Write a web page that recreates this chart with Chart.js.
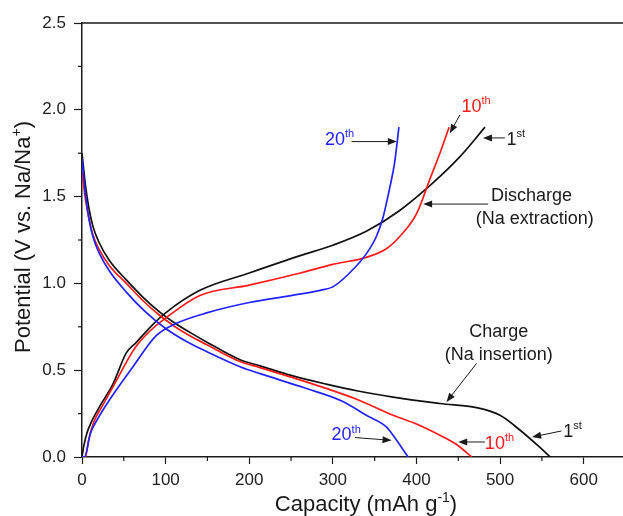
<!DOCTYPE html>
<html>
<head>
<meta charset="utf-8">
<script src="https://cdn.jsdelivr.net/npm/chart.js@4.4.1/dist/chart.umd.min.js"></script>
<style>
	html, body { margin: 0; padding: 0; background: #fff; }
	canvas { display: block; }
</style>
</head>
<body>
<canvas id="chart" width="623" height="516"></canvas>
<script>
// capacity (mAh g-1) and potential (V)
var cap1Charge = [0, 4, 8, 13, 20, 33, 53, 73, 93, 110, 130, 150, 189, 213, 250, 292, 330, 372, 428, 476, 500, 524, 547, 560];
var pot1Charge = [1.75, 1.57, 1.44, 1.33, 1.24, 1.13, 1.02, 0.92, 0.835, 0.775, 0.715, 0.66, 0.56, 0.525, 0.47, 0.42, 0.38, 0.345, 0.308, 0.28, 0.24, 0.154, 0.058, 0];

var cap10Charge = [0, 4, 8, 13, 20, 33, 53, 73, 93, 110, 130, 150, 189, 213, 250, 292, 330, 372, 400, 432, 450, 466];
var pot10Charge = [1.64, 1.49, 1.38, 1.28, 1.20, 1.10, 1.00, 0.90, 0.815, 0.755, 0.695, 0.645, 0.55, 0.515, 0.46, 0.395, 0.33, 0.24, 0.19, 0.115, 0.065, 0];

var cap20Charge = [0, 4, 8, 13, 21, 33, 53, 75, 100, 125, 150, 189, 213, 265, 312, 340, 364, 372, 390];
var pot20Charge = [1.72, 1.52, 1.38, 1.27, 1.17, 1.07, 0.95, 0.84, 0.74, 0.665, 0.605, 0.52, 0.48, 0.40, 0.32, 0.24, 0.173, 0.125, 0];

var cap1Discharge = [0, 2, 6, 12, 21, 37, 53, 65, 80, 100, 141, 200, 261, 300, 340, 380, 420, 452, 482];
var pot1Discharge = [0, 0.06, 0.14, 0.21, 0.29, 0.42, 0.60, 0.66, 0.74, 0.83, 0.96, 1.06, 1.16, 1.22, 1.30, 1.42, 1.58, 1.73, 1.9];

var cap10Discharge = [0, 4, 8, 14, 25, 40, 57, 65, 80, 100, 141, 200, 261, 300, 340, 364, 380, 400, 416, 428, 439];
var pot10Discharge = [0, 0, 0.1, 0.2, 0.3, 0.43, 0.58, 0.64, 0.72, 0.80, 0.93, 0.99, 1.06, 1.11, 1.15, 1.20, 1.27, 1.40, 1.60, 1.75, 1.9];

var cap20Discharge = [0, 3, 10, 20, 33, 61, 89, 113, 149, 200, 250, 285, 300, 320, 340, 352, 360, 368, 374, 379];
var pot20Discharge = [0, 0, 0.135, 0.23, 0.33, 0.52, 0.70, 0.77, 0.83, 0.89, 0.93, 0.96, 0.98, 1.06, 1.17, 1.27, 1.38, 1.55, 1.70, 1.9];

var xTickValues = [0, 50, 100, 150, 200, 250, 300, 350, 400, 450, 500, 550, 600];
var yTickValues = [0, 0.25, 0.5, 0.75, 1, 1.25, 1.5, 1.75, 2, 2.25, 2.5];

var xTitle = [['Capacity (mAh g', false], ['-1', true], [')', false]];
var yTitle = [['Potential (V vs. Na/Na', false], ['+', true], [')', false]];

var FONT = "'Liberation Sans', Arial, sans-serif";
var INK = '#1a1a1a';

function pts(xs, ys) {
	return xs.map(function (x, i) { return { x: x, y: ys[i] }; });
}

function line(label, xs, ys, color) {
	return {
		label: label,
		data: pts(xs, ys),
		showLine: true,
		borderColor: color,
		borderWidth: 1.7,
		pointRadius: 0,
		fill: false,
		cubicInterpolationMode: 'monotone'
	};
}

// labels and arrows, placed in data units
var notes = [
	{ t: 'text', x: 290.5, y: 1.797, parts: [['20', false], ['th', true]], color: '#2222ff' },
	{ t: 'arrow', x1: 322.4, y1: 1.817, x2: 376.5, y2: 1.817 },
	{ t: 'text', x: 453.9, y: 1.99, parts: [['10', false], ['th', true]], color: '#ff1a1a' },
	{ t: 'arrow', x1: 451.9, y1: 1.97, x2: 439.9, y2: 1.865 },
	{ t: 'text', x: 507.7, y: 1.797, parts: [['1', false], ['st', true]], color: INK },
	{ t: 'arrow', x1: 505.7, y1: 1.838, x2: 479.5, y2: 1.838 },
	{ t: 'text', x: 537.6, y: 1.475, parts: [['Discharge', false]], color: INK, center: true },
	{ t: 'text', x: 541.5, y: 1.342, parts: [['(Na extraction)', false]], color: INK, center: true },
	{ t: 'arrow', x1: 485.7, y1: 1.457, x2: 408, y2: 1.457 },
	{ t: 'text', x: 498.5, y: 0.692, parts: [['Charge', false]], color: INK, center: true },
	{ t: 'text', x: 498.5, y: 0.558, parts: [['(Na insertion)', false]], color: INK, center: true },
	{ t: 'arrow', x1: 471.8, y1: 0.539, x2: 435.9, y2: 0.317 },
	{ t: 'text', x: 298.5, y: 0.096, parts: [['20', false], ['th', true]], color: '#2222ff' },
	{ t: 'arrow', x1: 326.4, y1: 0.112, x2: 370.2, y2: 0.096 },
	{ t: 'text', x: 481.8, y: 0.048, parts: [['10', false], ['th', true]], color: '#ff1a1a' },
	{ t: 'arrow', x1: 481.8, y1: 0.0865, x2: 449.9, y2: 0.0865 },
	{ t: 'text', x: 575.4, y: 0.115, parts: [['1', false], ['st', true]], color: INK },
	{ t: 'arrow', x1: 573.5, y1: 0.15, x2: 538.3, y2: 0.115 }
];

function supText(ctx, x, y, parts, size, color, center) {
	var supSize = Math.round(size * 0.62);
	var w = 0;
	parts.forEach(function (p) {
		ctx.font = (p[1] ? supSize : size) + 'px ' + FONT;
		w += ctx.measureText(p[0]).width;
	});
	var cx = center ? x - w / 2 : x;
	ctx.fillStyle = color;
	ctx.textAlign = 'left';
	ctx.textBaseline = 'alphabetic';
	parts.forEach(function (p) {
		ctx.font = (p[1] ? supSize : size) + 'px ' + FONT;
		ctx.fillText(p[0], cx, p[1] ? y - size * 0.42 : y);
		cx += ctx.measureText(p[0]).width;
	});
}

function arrow(ctx, x1, y1, x2, y2) {
	var a = Math.atan2(y2 - y1, x2 - x1);
	var len = 9, half = 3.5;
	ctx.strokeStyle = INK;
	ctx.fillStyle = INK;
	ctx.lineWidth = 1;
	ctx.beginPath();
	ctx.moveTo(x1, y1);
	ctx.lineTo(x2 - Math.cos(a) * len * 0.8, y2 - Math.sin(a) * len * 0.8);
	ctx.stroke();
	ctx.beginPath();
	ctx.moveTo(x2, y2);
	ctx.lineTo(x2 - Math.cos(a) * len - Math.sin(a) * half, y2 - Math.sin(a) * len + Math.cos(a) * half);
	ctx.lineTo(x2 - Math.cos(a) * len + Math.sin(a) * half, y2 - Math.sin(a) * len - Math.cos(a) * half);
	ctx.closePath();
	ctx.fill();
}

var decor = {
	id: 'decor',
	afterDraw: function (chart) {
		var ctx = chart.ctx;
		var area = chart.chartArea;
		var xs = chart.scales.x, ys = chart.scales.y;
		ctx.save();

		// top frame line
		ctx.strokeStyle = INK;
		ctx.lineWidth = 1.5;
		ctx.beginPath();
		ctx.moveTo(area.left, area.top);
		ctx.lineTo(area.right, area.top);
		ctx.stroke();

		// short minor ticks
		ctx.lineWidth = 1.2;
		xTickValues.forEach(function (v) {
			if (v % 100 === 0) return;
			var px = xs.getPixelForValue(v);
			ctx.beginPath();
			ctx.moveTo(px, area.bottom);
			ctx.lineTo(px, area.bottom + 4);
			ctx.stroke();
		});
		yTickValues.forEach(function (v) {
			if (Math.round(v * 100) % 50 === 0) return;
			var py = ys.getPixelForValue(v);
			ctx.beginPath();
			ctx.moveTo(area.left, py);
			ctx.lineTo(area.left - 4, py);
			ctx.stroke();
		});

		// axis titles
		supText(ctx, 366, 511, xTitle, 22, INK, true);
		ctx.save();
		ctx.translate(30, 237);
		ctx.rotate(-Math.PI / 2);
		supText(ctx, 0, 0, yTitle, 22, INK, true);
		ctx.restore();

		notes.forEach(function (n) {
			if (n.t === 'text') {
				supText(ctx, xs.getPixelForValue(n.x), ys.getPixelForValue(n.y), n.parts, 18, n.color, n.center);
			} else {
				arrow(ctx, xs.getPixelForValue(n.x1), ys.getPixelForValue(n.y1),
					xs.getPixelForValue(n.x2), ys.getPixelForValue(n.y2));
			}
		});
		ctx.restore();
	}
};

function isMajor(value, step) {
	return Math.abs(value / step - Math.round(value / step)) < 1e-6;
}

new Chart(document.getElementById('chart'), {
	type: 'scatter',
	data: {
		datasets: [
			line('20th charge', cap20Charge, pot20Charge, '#2222ff'),
			line('20th discharge', cap20Discharge, pot20Discharge, '#2222ff'),
			line('10th charge', cap10Charge, pot10Charge, '#ff1a1a'),
			line('10th discharge', cap10Discharge, pot10Discharge, '#ff1a1a'),
			line('1st charge', cap1Charge, pot1Charge, '#111111'),
			line('1st discharge', cap1Discharge, pot1Discharge, '#111111')
		]
	},
	options: {
		responsive: false,
		animation: false,
		layout: { padding: { top: 23, right: 0, left: 0, bottom: 0 } },
		plugins: {
			legend: { display: false },
			tooltip: { enabled: false }
		},
		scales: {
			x: {
				type: 'linear',
				min: 0,
				max: 647,
				afterBuildTicks: function (s) { s.ticks = xTickValues.map(function (v) { return { value: v }; }); },
				afterFit: function (s) { s.height = 59; },
				border: { color: INK, width: 1.5 },
				grid: {
					drawOnChartArea: false,
					tickLength: 7,
					tickWidth: 1.2,
					tickColor: function (c) { return isMajor(c.tick.value, 100) ? INK : 'rgba(0,0,0,0)'; }
				},
				ticks: {
					padding: 6,
					color: '#222',
					font: { family: FONT, size: 17 },
					maxRotation: 0,
					autoSkip: false,
					callback: function (v) { return isMajor(v, 100) ? String(v) : ''; }
				}
			},
			y: {
				type: 'linear',
				min: 0,
				max: 2.5,
				afterBuildTicks: function (s) { s.ticks = yTickValues.map(function (v) { return { value: v }; }); },
				afterFit: function (s) { s.width = 82; },
				border: { color: INK, width: 1.5 },
				grid: {
					drawOnChartArea: false,
					tickLength: 8,
					tickWidth: 1.2,
					tickColor: function (c) { return isMajor(c.tick.value, 0.5) ? INK : 'rgba(0,0,0,0)'; }
				},
				ticks: {
					padding: 8,
					color: '#222',
					font: { family: FONT, size: 17 },
					autoSkip: false,
					callback: function (v) { return isMajor(v, 0.5) ? v.toFixed(1) : ''; }
				}
			}
		}
	},
	plugins: [decor]
});
</script>
</body>
</html>
